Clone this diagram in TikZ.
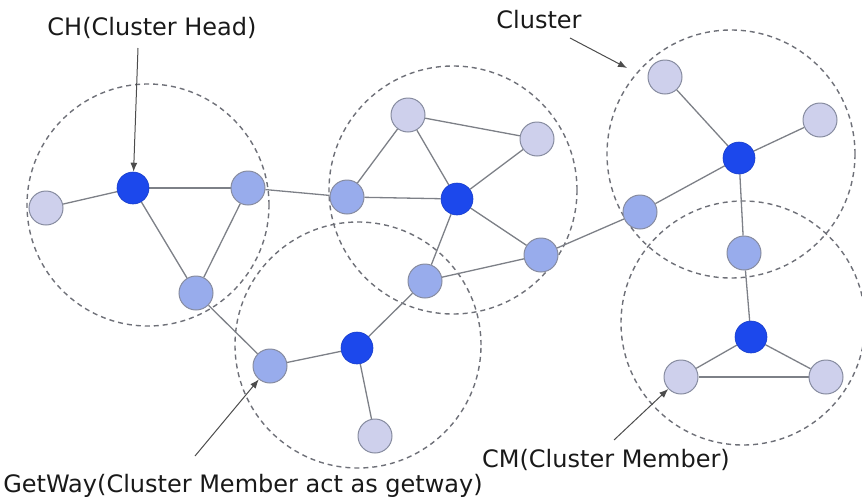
\documentclass[tikz,border=0pt]{standalone}
\usepackage{fontspec}
\setmainfont{DejaVu Sans}
\usetikzlibrary{arrows.meta,backgrounds}

\definecolor{memfill}{RGB}{206,208,236}
\definecolor{gwfill}{RGB}{152,172,236}
\definecolor{chfill}{RGB}{28,72,236}
\definecolor{nodeline}{RGB}{135,140,160}
\definecolor{linkcol}{RGB}{125,128,135}
\definecolor{zonecol}{RGB}{110,112,120}

\tikzset{
  member/.style={circle, draw=nodeline, line width=1pt, fill=memfill, minimum size=34pt, inner sep=0pt},
  gateway/.style={member, fill=gwfill},
  head/.style={circle, draw=chfill!85!black, line width=0.6pt, fill=chfill, minimum size=32pt, inner sep=0pt},
  link/.style={draw=linkcol, line width=1.3pt},
  zone/.style={draw=zonecol, line width=1.4pt, dash pattern=on 5pt off 4pt},
  pointer/.style={draw=black!70, line width=1pt, -{Latex[length=9pt,width=7pt]}},
  caption/.style={font=\fontsize{24}{28}\selectfont, text=black!90, inner sep=0pt}
}

\begin{document}
\begin{tikzpicture}[x=1pt,y=-1pt]
\useasboundingbox (0,0) rectangle (862,501);

% sensor nodes
\node[member]  (a1)  at (46,208) {};
\node[head]    (ch1) at (133,188) {};
\node[gateway] (b1)  at (248,188) {};
\node[gateway] (c1)  at (196,293) {};

\node[gateway] (d2)  at (347,197) {};
\node[member]  (e2)  at (408,115) {};
\node[member]  (f2)  at (537,139) {};
\node[head]    (ch2) at (457,199) {};
\node[gateway] (g2)  at (541,255) {};
\node[gateway] (h2)  at (425,281) {};

\node[gateway] (gw)  at (270,366) {};
\node[head]    (ch3) at (357,348) {};
\node[member]  (i3)  at (375,436) {};

\node[member]  (j4)  at (665,77) {};
\node[member]  (k4)  at (820,120) {};
\node[head]    (ch4) at (739,158) {};
\node[gateway] (l4)  at (640,212) {};
\node[gateway] (m4)  at (744,253) {};

\node[head]    (ch5) at (751,337) {};
\node[member]  (n5)  at (681,377) {};
\node[member]  (o5)  at (826,377) {};

\begin{scope}[on background layer]
  % cluster boundaries
  \begin{scope}
    \clip (0,0) rectangle (862,501);
    \draw[zone] (148,205) circle (121pt);
    \draw[zone] (453,190) circle (124pt);
    \draw[zone] (358,345) circle (123pt);
    \draw[zone] (731,154) circle (124pt);
    \draw[zone] (743,323) circle (122pt);
  \end{scope}
  % links between nodes
  \foreach \u/\v in {a1/ch1, ch1/b1, ch1/c1, b1/c1, b1/d2, c1/gw, gw/ch3, ch3/i3, ch3/h2,
    h2/ch2, h2/g2, d2/e2, d2/ch2, e2/ch2, e2/f2, ch2/f2, ch2/g2, g2/l4, l4/ch4, j4/ch4,
    k4/ch4, ch4/m4, m4/ch5, ch5/n5, ch5/o5, n5/o5}
    \draw[link] (\u) -- (\v);
\end{scope}

% labels and pointers
\node[caption] (lch) at (152,28) {CH(Cluster Head)};
\coordinate (tch) at (138,48);
\draw[pointer] (tch) -- (ch1);

\node[caption] (lcl) at (539,20) {Cluster};
\coordinate (tcl) at (570,38);
\coordinate (hcl) at (627,68);
\draw[pointer] (tcl) -- (hcl);

\node[caption] (lgw) at (243,486) {GetWay(Cluster Member act as getway)};
\coordinate (tgw) at (195,456);
\draw[pointer] (tgw) -- (gw);

\node[caption] (lcm) at (606,460) {CM(Cluster Member)};
\coordinate (tcm) at (614,440);
\draw[pointer] (tcm) -- (n5);
\end{tikzpicture}
\end{document}
